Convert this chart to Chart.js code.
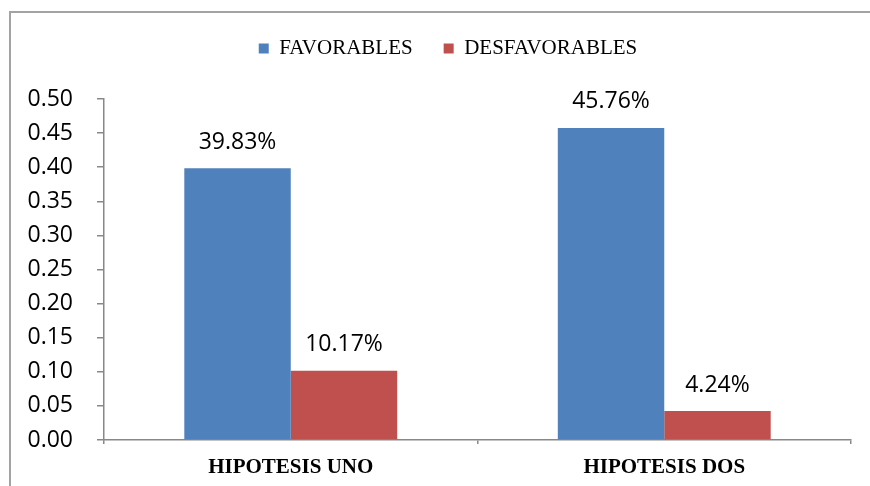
<!DOCTYPE html>
<html>
<head>
<meta charset="utf-8">
<script src="https://cdn.jsdelivr.net/npm/chart.js@4/dist/chart.umd.min.js"></script>
<style>
  html, body { margin: 0; padding: 0; background: #fff; overflow: hidden; }
  #wrap { position: relative; width: 870px; height: 486px; }
  #frame { position: absolute; left: 9px; top: 11px; width: 900px; height: 600px; border: 2px solid #a3a3a3; }
  #chartHipotesis { position: absolute; left: 0; top: 0; }
</style>
</head>
<body>
<div id="wrap">
  <div id="frame"></div>
  <canvas id="chartHipotesis" width="870" height="486"></canvas>
</div>
<script>
const categories = ["HIPOTESIS UNO", "HIPOTESIS DOS"];
const favorables = [0.3983, 0.4576];
const desfavorables = [0.1017, 0.0424];

// espacio extra debajo de la leyenda, y leyenda algo corrida a la derecha
const legendSpace = {
  id: "legendSpace",
  beforeInit(chart) {
    const fit = chart.legend.fit;
    chart.legend.fit = function () {
      fit.bind(chart.legend)();
      this.height += 30;
    };
  },
  afterLayout(chart) {
    chart.legend.left += 9;
    chart.legend.right += 9;
  },
};

// porcentajes encima de cada barra
const barLabels = {
  id: "barLabels",
  afterDatasetsDraw(chart) {
    const ctx = chart.ctx;
    ctx.save();
    ctx.font = "23px 'Open Sans'";
    ctx.fillStyle = "#000";
    ctx.textAlign = "center";
    ctx.textBaseline = "middle";
    chart.data.datasets.forEach((dataset, i) => {
      chart.getDatasetMeta(i).data.forEach((bar, j) => {
        const text = (dataset.data[j] * 100).toFixed(2) + "%";
        ctx.fillText(text, bar.x, bar.y - 26);
      });
    });
    ctx.restore();
  },
};

const chart = new Chart("chartHipotesis", {
  type: "bar",
  data: {
    labels: categories,
    datasets: [
      {
        label: "FAVORABLES",
        backgroundColor: "#4F81BD",
        data: favorables,
      },
      {
        label: "DESFAVORABLES",
        backgroundColor: "#C0504D",
        data: desfavorables,
      },
    ],
  },
  options: {
    responsive: false,
    animation: false,
    layout: {
      padding: { left: 27, right: 19, top: 7, bottom: 7 },
    },
    datasets: {
      bar: { categoryPercentage: 0.57, barPercentage: 1.0 },
    },
    plugins: {
      legend: {
        position: "top",
        labels: {
          boxWidth: 10,
          boxHeight: 10,
          padding: 31,
          color: "#000",
          font: { family: "'Liberation Serif'", size: 21 },
        },
      },
      tooltip: { enabled: false },
    },
    scales: {
      x: {
        afterFit: (scale) => { scale.height = 39; },
        grid: {
          drawOnChartArea: false,
          drawTicks: true,
          tickLength: 4,
          color: "#888",
          lineWidth: 1.5,
        },
        border: { color: "#888", width: 1.5 },
        ticks: {
          color: "#000",
          padding: 11,
          font: { family: "'Liberation Serif'", size: 21, weight: "bold" },
        },
      },
      y: {
        min: 0,
        max: 0.5,
        afterFit: (scale) => { scale.width = 77; },
        grid: {
          drawOnChartArea: false,
          drawTicks: true,
          tickLength: 7,
          color: "#888",
          lineWidth: 1.5,
        },
        border: { color: "#888", width: 1.5 },
        ticks: {
          stepSize: 0.05,
          color: "#000",
          padding: 24,
          font: { family: "'Open Sans'", size: 23 },
          callback: (value) => value.toFixed(2),
        },
      },
    },
  },
  plugins: [legendSpace, barLabels],
});
</script>
</body>
</html>
